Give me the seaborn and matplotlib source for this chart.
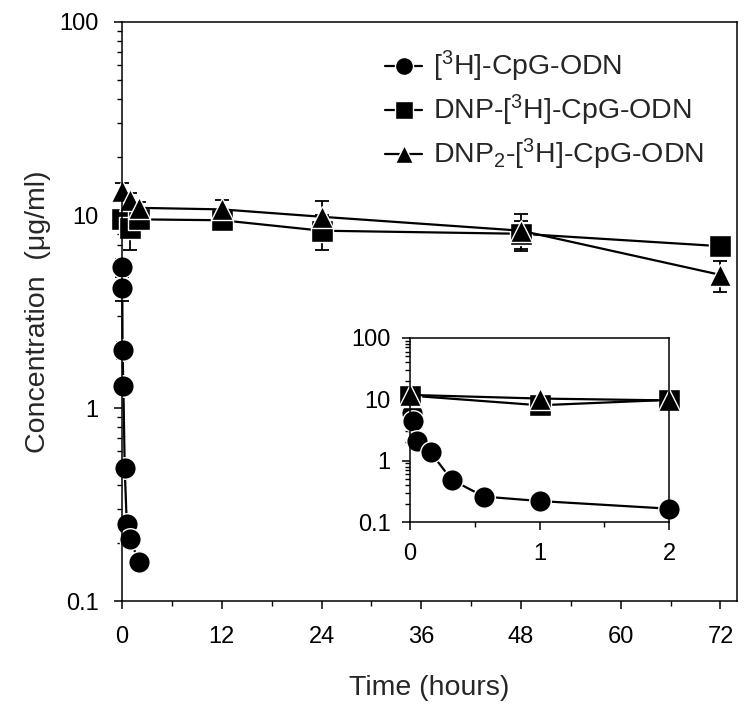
import matplotlib; matplotlib.use('Agg')
import numpy as np
import pandas as pd
import seaborn as sns
import matplotlib.pyplot as plt
from matplotlib.lines import Line2D
from matplotlib.ticker import LogLocator, NullFormatter, FixedLocator

# main plot values (hours, ug/ml)
cpg_t = [0.015, 0.03, 0.06, 0.16, 0.32, 0.57, 1, 2]
cpg_c = [5.4, 4.2, 2.0, 1.3, 0.49, 0.25, 0.21, 0.16]
cpg_err = [0.5, 0.6, 0.2, 0.1, 0.04, 0.02, 0.02, 0.01]

dnp_t = [0, 1, 2, 12, 24, 48, 72]
dnp_c = [9.5, 8.6, 9.5, 9.4, 8.3, 8.0, 6.9]
dnp_err = [1.0, 2.0, 1.0, 0.6, 1.7, 1.3, 0.3]

dnp2_t = [0, 1, 2, 12, 24, 48, 72]
dnp2_c = [13.4, 12.0, 10.9, 10.7, 9.8, 8.3, 4.9]
dnp2_err = [1.2, 1.0, 0.8, 1.2, 2.0, 1.8, 0.9]

# inset values (first 2 hours)
ins_cpg_t = [0.013, 0.026, 0.056, 0.16, 0.32, 0.57, 1, 2]
ins_cpg_c = [6.0, 4.4, 2.1, 1.36, 0.49, 0.26, 0.22, 0.165]
ins_cpg_err = [0.8, 1.0, 0.3, 0.1, 0.04, 0.02, 0.02, 0.01]
ins_t = [0, 1, 2]
ins_dnp_c = [11.5, 8.0, 9.8]
ins_dnp2_c = [11.8, 10.3, 9.6]

labels = [r'[$^3$H]-CpG-ODN', r'DNP-[$^3$H]-CpG-ODN', r'DNP$_2$-[$^3$H]-CpG-ODN']
markers = {labels[0]: 'o', labels[1]: 's', labels[2]: '^'}

main_df = pd.concat([
    pd.DataFrame({'time': cpg_t, 'conc': cpg_c, 'err': cpg_err, 'group': labels[0]}),
    pd.DataFrame({'time': dnp_t, 'conc': dnp_c, 'err': dnp_err, 'group': labels[1]}),
    pd.DataFrame({'time': dnp2_t, 'conc': dnp2_c, 'err': dnp2_err, 'group': labels[2]}),
], ignore_index=True)

inset_df = pd.concat([
    pd.DataFrame({'time': ins_cpg_t, 'conc': ins_cpg_c, 'err': ins_cpg_err, 'group': labels[0]}),
    pd.DataFrame({'time': ins_t, 'conc': ins_dnp_c, 'err': 0.0, 'group': labels[1]}),
    pd.DataFrame({'time': ins_t, 'conc': ins_dnp2_c, 'err': 0.0, 'group': labels[2]}),
], ignore_index=True)

sns.set_theme(style='ticks')
plt.rcParams['font.family'] = ['Liberation Sans', 'DejaVu Sans']
plt.rcParams['mathtext.fontset'] = 'custom'
plt.rcParams['mathtext.rm'] = 'Liberation Sans'
plt.rcParams['mathtext.it'] = 'Liberation Sans:italic'
plt.rcParams['axes.linewidth'] = 1.1

fig = plt.figure(figsize=(7.51, 7.09), dpi=100)
ax = fig.add_axes([0.1625, 0.152, 0.819, 0.817])
ax_in = fig.add_axes([0.546, 0.2637, 0.345, 0.2596])

palette = {l: 'black' for l in labels}


def draw(axis, df, ms):
    for g in labels:
        sub = df[df['group'] == g]
        axis.errorbar(sub['time'], sub['conc'], yerr=sub['err'], fmt='none', ecolor='black',
                      elinewidth=1.3, capsize=5, capthick=1.3, zorder=1.5, clip_on=False)
    sns.lineplot(data=df, x='time', y='conc', hue='group', style='group', hue_order=labels,
                 style_order=labels, palette=palette, markers=markers, dashes=False,
                 estimator=None, sort=False, legend=False, ax=axis, linewidth=1.6,
                 markersize=ms, markeredgecolor='white', markeredgewidth=1.0,
                 clip_on=False, zorder=2)


draw(ax, main_df, 15.5)
draw(ax_in, inset_df, 15.5)

for a in (ax, ax_in):
    a.set_yscale('log')
    a.set_ylim(0.1, 100)
    a.set_yticks([0.1, 1, 10, 100])
    a.set_yticklabels(['0.1', '1', '10', '100'])
    a.yaxis.set_minor_locator(LogLocator(base=10, subs=np.arange(2, 10)))
    a.yaxis.set_minor_formatter(NullFormatter())
    a.tick_params(which='major', direction='out', length=6, width=1.1, labelsize=17,
                  colors='black')
    a.tick_params(which='minor', direction='out', length=3.5, width=1.0, colors='black')
    a.set_xlabel('')
    a.set_ylabel('')
    for s in a.spines.values():
        s.set_color('black')

ax.tick_params(axis='x', which='major', pad=12)
ax.tick_params(axis='y', which='major', pad=11)
ax.set_xlim(0, 74)
ax.set_xticks(range(0, 73, 12))
ax.xaxis.set_minor_locator(FixedLocator(range(6, 73, 12)))
ax.set_xlabel('Time (hours)', fontsize=20.5, labelpad=19)
ax.set_ylabel('Concentration  (\u03bcg/ml)', fontsize=20.5, labelpad=6)

ax_in.set_xlim(0, 2)
ax_in.set_xticks([0, 1, 2])
ax_in.xaxis.set_minor_locator(FixedLocator([0.5, 1.5]))
ax_in.tick_params(axis='x', which='major', pad=9)
ax_in.tick_params(axis='y', which='major', pad=8)

handles = [Line2D([], [], color='black', linewidth=1.6, marker=markers[l], markersize=13,
                  markeredgecolor='white', markeredgewidth=1.0) for l in labels]
ax.legend(handles, labels, loc='upper left', bbox_to_anchor=(0.4276, 0.953), frameon=False,
          fontsize=20.5, handlelength=1.3, handletextpad=0.4, labelspacing=0.31, borderpad=0,
          borderaxespad=0)

fig.savefig('out.png', dpi=100)
